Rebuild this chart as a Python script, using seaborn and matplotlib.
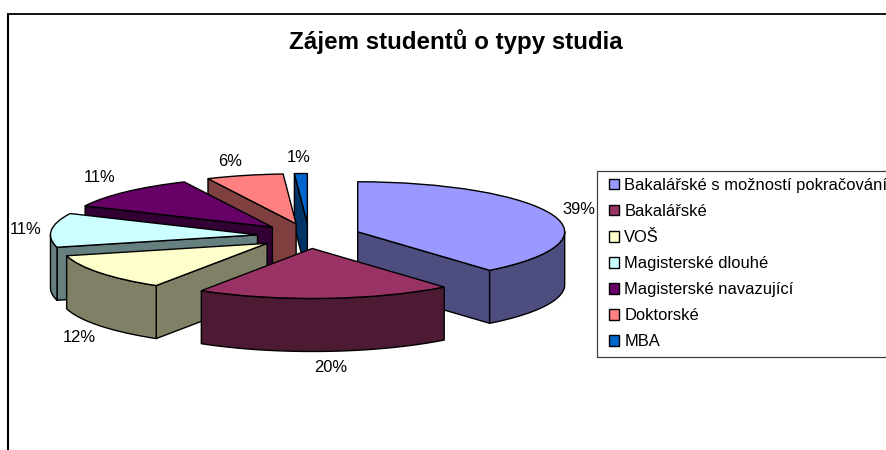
"""
plot.py - exploded pseudo 3D pie: Zajem studentu o typy studia
"""

import numpy as np
import matplotlib
matplotlib.use("Agg")
import matplotlib.pyplot as plt
from matplotlib.lines import Line2D
from matplotlib.patches import Rectangle
import seaborn as sns

# ===================================================
# DATA
# ===================================================
TITLE = "Zájem studentů o typy studia"
CATEGORIES = [
    "Bakalářské s možností pokračování",
    "Bakalářské",
    "VOŠ",
    "Magisterské dlouhé",
    "Magisterské navazující",
    "Doktorské",
    "MBA",
]
VALUES = [39, 20, 12, 11, 11, 6, 1]
FACE_COLORS = ["#9999FF", "#993366", "#FFFFCC", "#CCFFFF", "#660066", "#FF8080", "#0066CC"]

# ===================================================
# SETTINGS (layout in pixels of the 887x450 picture)
# ===================================================
W, H = 887, 450
CX, CY = 309, 236      # pie centre
RX, RY = 207, 50       # ellipse radii
DEPTH = 53 / RY        # wall height in data units
EXPLODE = 0.25
DRAW_ORDER = [6, 5, 4, 3, 2, 0, 1]  # back to front
LABEL_POS = [(579, 210), (331, 368), (79, 337), (26, 230), (100, 178), (230, 161), (299, 158)]
FONT_LABEL = 11.9
EDGE_W = 1.0

sns.set_theme(style="white")
plt.rcParams["font.family"] = ["Liberation Sans", "DejaVu Sans"]
palette = sns.color_palette(FACE_COLORS)
wall_colors = [tuple(np.array(c) * 0.5) for c in palette]


def to_data(px, py):
    return (px - CX) / RX, (CY - py) / RY


def draw_walls(ax, wedge, color, z):
    """Side walls of one wedge, only those that face the viewer"""
    cx, cy = wedge.center
    t1, t2 = wedge.theta1, wedge.theta2
    style = dict(facecolor=color, edgecolor="black", linewidth=EDGE_W, zorder=z, joinstyle="round")

    # -----> Radial walls
    for ang, visible in ((t1, np.cos(np.radians(t1)) > 1e-6), (t2, np.cos(np.radians(t2)) < -1e-6)):
        if visible:
            ex = cx + np.cos(np.radians(ang))
            ey = cy + np.sin(np.radians(ang))
            ax.fill([cx, ex, ex, cx], [cy, ey, ey - DEPTH, cy - DEPTH], **style)

    # -----> Outer wall, lower half of the ellipse only
    lo, hi = max(t1, -180), min(t2, 0)
    if hi > lo:
        arc = np.radians(np.linspace(lo, hi, 60))
        xs = cx + np.cos(arc)
        ys = cy + np.sin(arc)
        ax.fill(np.r_[xs, xs[::-1]], np.r_[ys, ys[::-1] - DEPTH], **style)


def main():
    fig = plt.figure(figsize=(W / 100, H / 100), dpi=100, facecolor="white")
    ax = fig.add_axes([0, 0, 1, 1])

    wedges, _, autotexts = ax.pie(
        VALUES,
        explode=[EXPLODE] * len(VALUES),
        colors=palette,
        startangle=90,
        counterclock=False,
        autopct="%d%%",
        wedgeprops=dict(edgecolor="black", linewidth=EDGE_W),
    )
    ax.set_aspect("auto")
    ax.set_xlim(to_data(0, 0)[0], to_data(W, 0)[0])
    ax.set_ylim(to_data(0, H)[1], to_data(0, 0)[1])

    for z, i in enumerate(DRAW_ORDER):
        draw_walls(ax, wedges[i], wall_colors[i], z * 2 + 2)
        wedges[i].set_zorder(z * 2 + 3)

    for txt, pos in zip(autotexts, LABEL_POS):
        txt.set_position(to_data(*pos))
        txt.set_fontsize(FONT_LABEL)
        txt.set_color("black")
        txt.set_ha("center")
        txt.set_va("center")
        txt.set_zorder(40)

    # -----> Title
    fig.text(455.5 / W, 1 - 42 / H, TITLE, ha="center", va="center",
             fontsize=17.4, fontweight="bold", color="black")

    # -----> Legend, its box runs past the right edge of the picture
    fig.add_artist(Rectangle((597 / W, 1 - 357 / H), 300 / W, 186 / H, transform=fig.transFigure,
                             facecolor="none", edgecolor="#404040", linewidth=0.9))
    leg = ax.legend(
        wedges, CATEGORIES,
        loc="upper left",
        bbox_to_anchor=(609 / W, 1 - 178 / H),
        bbox_transform=fig.transFigure,
        borderaxespad=0,
        borderpad=0,
        fontsize=FONT_LABEL,
        labelcolor="black",
        frameon=False,
        labelspacing=0.67,
        handlelength=0.6,
        handleheight=0.6,
        handletextpad=0.32,
    )
    leg.set_zorder(30)

    # -----> Outer frame, only top and left edges are inside the picture
    fig.add_artist(Line2D([8.5 / W, 1], [1 - 13.5 / H] * 2, color="black", linewidth=1.3))
    fig.add_artist(Line2D([8.5 / W] * 2, [1 - 13.5 / H, 0], color="black", linewidth=1.5))

    fig.savefig("out.png", dpi=100, facecolor="white")
    plt.close(fig)


if __name__ == "__main__":
    main()
